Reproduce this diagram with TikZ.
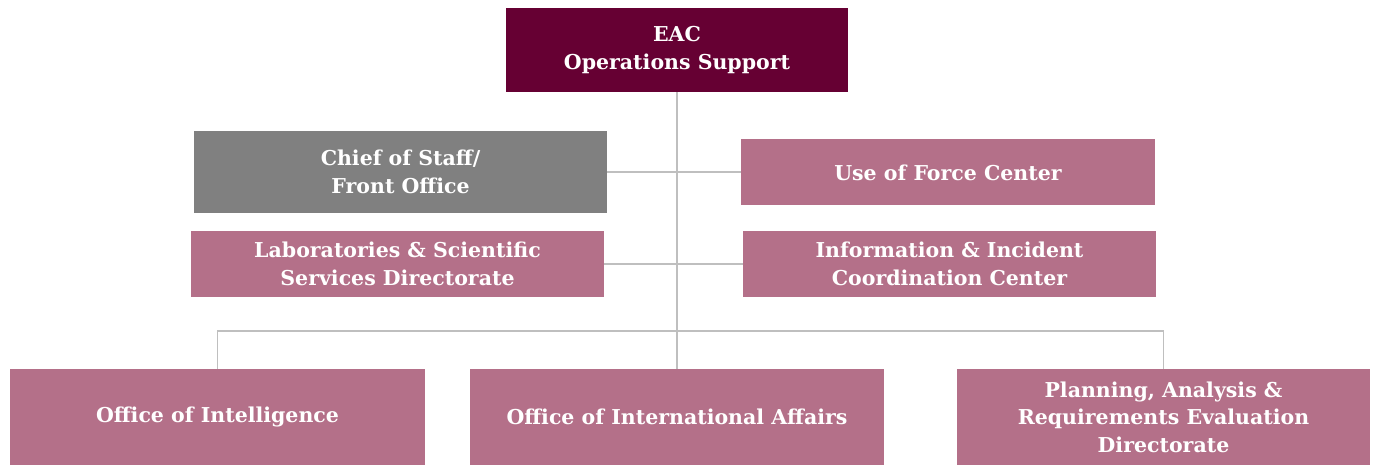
\documentclass[tikz,border=0pt]{standalone}
\usepackage{fontspec}
\setmainfont{DejaVu Serif}
\definecolor{topc}{HTML}{660033}
\definecolor{pinkc}{HTML}{B47089}
\definecolor{grayc}{HTML}{808080}
\definecolor{linec}{HTML}{BFBFBF}
\begin{document}
\begin{tikzpicture}[x=1pt,y=-1pt,
  box/.style={draw=none, fill=pinkc, text=white, font=\fontsize{20.5}{27.5}\selectfont\bfseries, align=center, inner sep=0pt},
  conn/.style={draw=linec, line width=1.8pt}]
\useasboundingbox (0,0) rectangle (1381,465);
\node[box, fill=topc, minimum width=342pt, minimum height=84pt] (top) at (677,50) {EAC\\Operations Support};
\node[box, fill=grayc, minimum width=413pt, minimum height=82pt] (cos) at (400.5,172) {Chief of Staff/\\Front Office};
\node[box, minimum width=414pt, minimum height=66pt] (uof) at (948,172.5) {Use of Force Center};
\node[box, minimum width=413pt, minimum height=66pt] (lab) at (397.5,264) {Laboratories \& Scientific\\Services Directorate};
\node[box, minimum width=413pt, minimum height=66pt] (iicc) at (949.5,264) {Information \& Incident\\Coordination Center};
\node[box, minimum width=415pt, minimum height=96pt] (oi) at (217.5,417) {Office of Intelligence};
\node[box, minimum width=414pt, minimum height=96pt] (oia) at (677,417) {Office of International Affairs};
\node[box, minimum width=413pt, minimum height=96pt] (pare) at (1163.5,417) {Planning, Analysis \&\\Requirements Evaluation\\Directorate};
\coordinate (bus) at (677,331);
\draw[conn] (top.south) -- (oia.north);
\draw[conn] (cos.east) -- (cos.east -| uof.west);
\draw[conn] (lab.east) -- (iicc.west);
\draw[conn] (oi.north) |- (bus) -| (pare.north);
\end{tikzpicture}
\end{document}
